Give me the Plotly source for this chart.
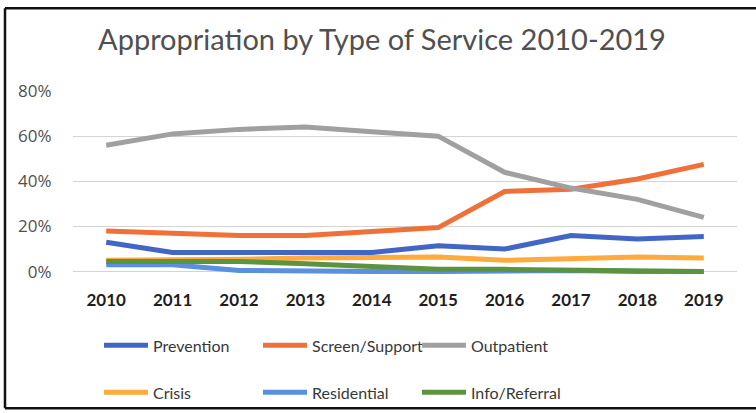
import plotly.graph_objects as go

years = ["2010", "2011", "2012", "2013", "2014", "2015", "2016", "2017", "2018", "2019"]
prevention = [0.13, 0.085, 0.085, 0.085, 0.085, 0.115, 0.10, 0.16, 0.145, 0.155]
screen_support = [0.18, 0.17, 0.16, 0.16, 0.175, 0.195, 0.355, 0.365, 0.41, 0.475]
outpatient = [0.56, 0.61, 0.63, 0.64, 0.62, 0.60, 0.44, 0.37, 0.32, 0.24]
crisis = [0.05, 0.05, 0.055, 0.06, 0.06, 0.065, 0.05, 0.055, 0.065, 0.06]
residential = [0.03, 0.03, 0.005, 0.0, 0.0, 0.0, 0.005, 0.005, 0.0, 0.0]
info_referral = [0.045, 0.045, 0.045, 0.035, 0.025, 0.01, 0.01, 0.005, 0.0, 0.0]
y_ticks = [0, 0.2, 0.4, 0.6, 0.8]
y_tick_labels = ["0%", "20%", "40%", "60%", "80%"]

series = [
    ("Prevention", prevention, "#4166C6", "legend"),
    ("Screen/Support", screen_support, "#F0703A", "legend"),
    ("Outpatient", outpatient, "#A0A0A0", "legend"),
    ("Crisis", crisis, "#FFAA3C", "legend2"),
    ("Residential", residential, "#5B8FE0", "legend2"),
    ("Info/Referral", info_referral, "#5C9340", "legend2"),
]

fig = go.Figure()
for name, vals, color, leg in series:
    fig.add_trace(go.Scatter(x=years, y=vals, name=name, mode="lines",
                             line=dict(color=color, width=5), legend=leg))

W, H = 756, 413
L, R = 73, 737
T = 91
B0 = 272
ymin = -0.015
ppu = (B0 - T) / 0.8
Bpx = B0 - ymin * ppu
pw, ph = R - L, Bpx - T


def px(x):
    return (x - L) / pw


def py(y):
    return (Bpx - y) / ph


legend_font = dict(family="Lato, sans-serif", size=16, color="#383838")
legend_common = dict(orientation="h", xanchor="left", yanchor="middle",
                     entrywidth=100, entrywidthmode="pixels", itemwidth=44,
                     font=legend_font, bgcolor="rgba(0,0,0,0)", traceorder="normal")
border = dict(color="#111111", width=2.5)
fig.update_layout(
    width=W, height=H,
    margin=dict(l=L, r=W - R, t=T, b=H - Bpx, pad=0, autoexpand=False),
    paper_bgcolor="white", plot_bgcolor="white",
    title=dict(text="Appropriation by Type of Service 2010-2019",
               font=dict(family="Lato, sans-serif", size=29, color="#505050"),
               x=px(382), xanchor="center", xref="paper",
               y=1 - 40 / H, yanchor="middle", yref="container"),
    xaxis=dict(type="category", range=[-0.5, 9.5], showgrid=False, zeroline=False,
               showline=False, ticks="outside", ticklen=10, tickcolor="rgba(0,0,0,0)",
               tickfont=dict(family="Lato, sans-serif", size=17, color="#1E1E1E", weight="bold")),
    yaxis=dict(range=[ymin, 0.8], tickvals=y_ticks, ticktext=y_tick_labels,
               showgrid=True, gridcolor="#D4D4D4", gridwidth=1, zeroline=False,
               showline=False, ticks="outside", ticklen=17, tickcolor="rgba(0,0,0,0)",
               tickfont=dict(family="Open Sans, sans-serif", size=17, color="#505050")),
    showlegend=True,
    legend=dict(x=px(99), y=py(346), **legend_common),
    legend2=dict(x=px(99), y=py(393), **legend_common),
    shapes=[
        dict(type="line", xref="paper", yref="paper", x0=px(5), x1=px(756), y0=py(8), y1=py(8), line=border),
        dict(type="line", xref="paper", yref="paper", x0=px(5), x1=px(5), y0=py(8), y1=py(409), line=border),
        dict(type="line", xref="paper", yref="paper", x0=px(5), x1=px(756), y0=py(409), y1=py(409), line=border),
    ],
)

fig.write_html("out.html", config={"displayModeBar": False},
               post_script="document.body.style.margin='0';")
